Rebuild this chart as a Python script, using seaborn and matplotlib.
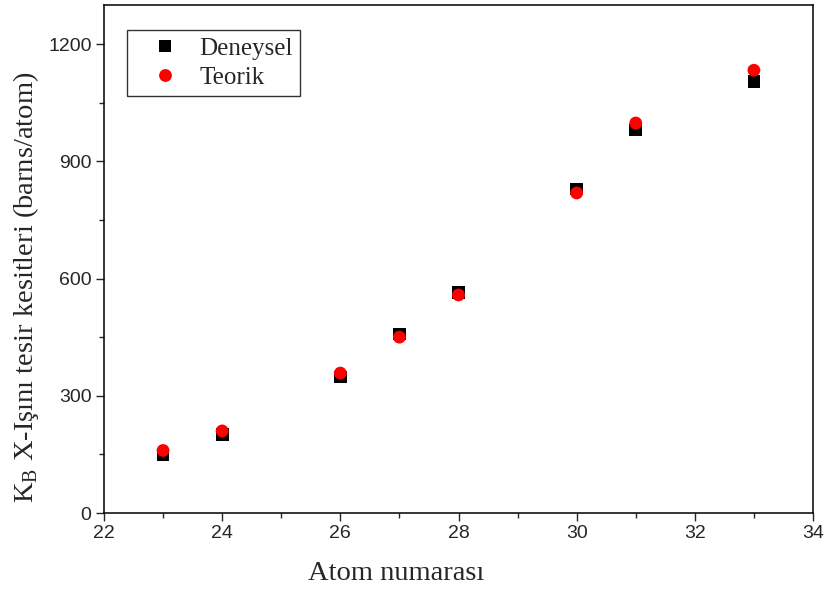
import matplotlib
matplotlib.use("Agg")
import matplotlib.pyplot as plt
import seaborn as sns
import pandas as pd
from matplotlib.ticker import MultipleLocator

atom_numbers = [23, 24, 26, 27, 28, 30, 31, 33]
deneysel = [150, 200, 348, 458, 565, 829, 980, 1105]
teorik = [160, 210, 358, 450, 558, 819, 998, 1133]

df = pd.concat([
    pd.DataFrame({"Z": atom_numbers, "val": deneysel, "Seri": "Deneysel"}),
    pd.DataFrame({"Z": atom_numbers, "val": teorik, "Seri": "Teorik"}),
])

sns.set_style("ticks")
plt.rcParams['mathtext.fontset'] = 'custom'
plt.rcParams['mathtext.rm'] = 'Liberation Serif'

fig = plt.figure(figsize=(8.27, 5.92), dpi=100)
ax = fig.add_axes([104 / 827, 1 - 513 / 592, 709 / 827, 508 / 592])

sns.scatterplot(data=df, x="Z", y="val", hue="Seri", style="Seri",
                palette={"Deneysel": "black", "Teorik": "red"},
                markers={"Deneysel": "s", "Teorik": "o"},
                s=85, linewidth=0, ax=ax, legend=True)

ax.set_xlim(22, 34)
ax.set_ylim(0, 1300)
ax.xaxis.set_major_locator(MultipleLocator(2))
ax.xaxis.set_minor_locator(MultipleLocator(1))
ax.yaxis.set_major_locator(MultipleLocator(300))
ax.yaxis.set_minor_locator(MultipleLocator(150))
ax.tick_params(which='major', direction='out', length=6, width=1, labelsize=14, pad=3)
ax.tick_params(which='minor', direction='out', length=3.5, width=1)
for lab in ax.get_xticklabels() + ax.get_yticklabels():
    lab.set_fontfamily('Liberation Sans')
for sp in ax.spines.values():
    sp.set_linewidth(1.1)
    sp.set_color('black')

ax.set_xlabel("Atom numarası", fontfamily='Liberation Serif', fontsize=20.5, labelpad=13)
ax.set_ylabel(r"K$_\mathrm{B}$ X-Işını tesir kesitleri (barns/atom)",
              fontfamily='Liberation Serif', fontsize=20.5, labelpad=5)
ax.xaxis.label.set_x(0.4126)
ax.yaxis.label.set_y(0.445)

leg = ax.legend(loc='upper left', bbox_to_anchor=(0.0324, 0.951), borderaxespad=0,
                frameon=True, fancybox=False, edgecolor='black',
                prop={'family': 'Liberation Serif', 'size': 18},
                handletextpad=0.15, borderpad=0.3, labelspacing=0.25, markerscale=1.0,
                handlelength=2.44)
leg.get_frame().set_linewidth(1.0)

fig.savefig("out.png", dpi=100)
